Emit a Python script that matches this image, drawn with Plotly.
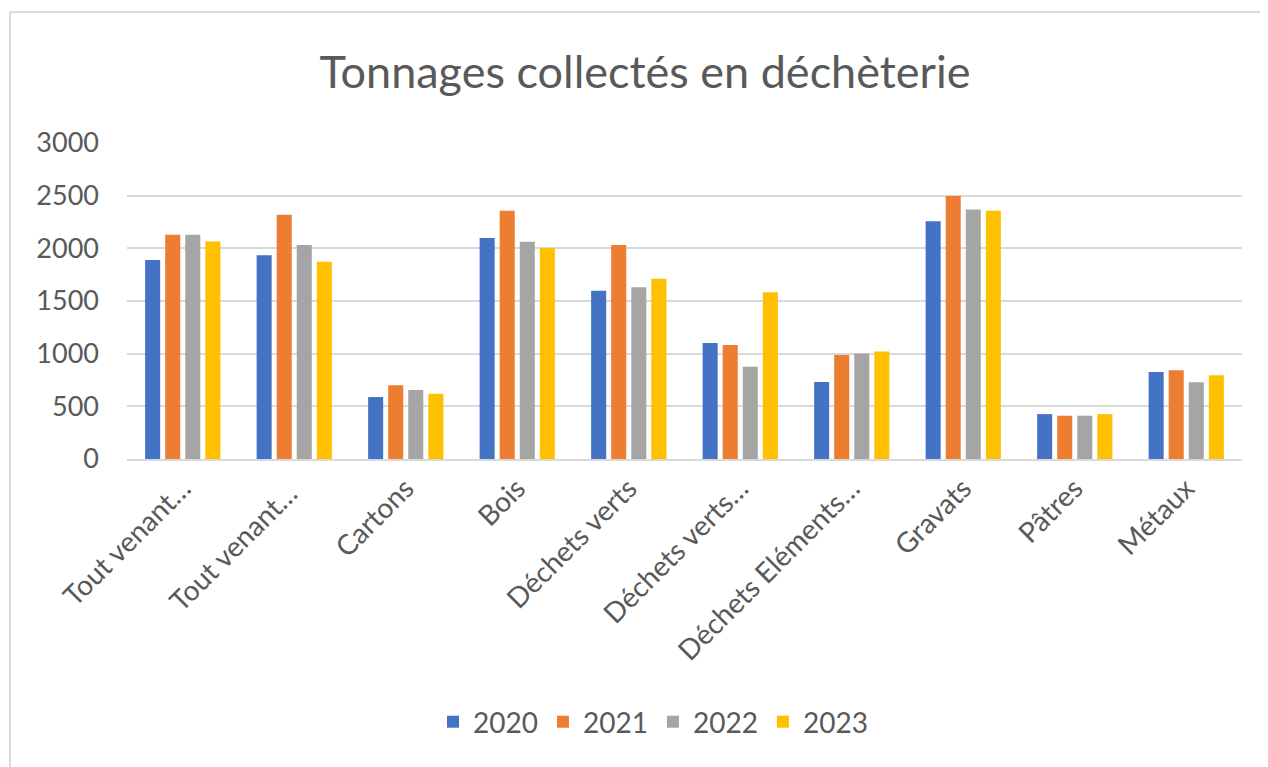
import plotly.graph_objects as go

categories = ["Tout venant…", "Tout venant… ", "Cartons", "Bois", "Déchets verts",
              "Déchets verts…", "Déchets Eléments…", "Gravats", "Pâtres", "Métaux"]
years = ["2020", "2021", "2022", "2023"]
v2020 = [1890, 1935, 588, 2097, 1598, 1102, 730, 2258, 426, 827]
v2021 = [2128, 2320, 701, 2356, 2031, 1083, 988, 2498, 411, 843]
v2022 = [2128, 2031, 654, 2062, 1630, 875, 1001, 2369, 411, 729]
v2023 = [2065, 1873, 619, 2002, 1712, 1582, 1020, 2356, 426, 796]
series = [v2020, v2021, v2022, v2023]
colors = ["#4472C4", "#ED7D31", "#A5A5A5", "#FFC000"]
yticks = [0, 500, 1000, 1500, 2000, 2500, 3000]

OFF = 8  # page body margin
W, H = 1268 - OFF, 767 - OFF
# plot area in screenshot pixels
PX0, PX1, PY0, PY1 = 127, 1242, 143, 459
L, R = PX0 - OFF, W - (PX1 - OFF)
T, B = PY0 - OFF, H - (PY1 - OFF)
pw, ph = PX1 - PX0, PY1 - PY0

def px_x(sx):
    return (sx - PX0) / pw

def px_y(sy):
    return (PY1 - sy) / ph

fig = go.Figure()
for name, vals, col in zip(years, series, colors):
    fig.add_trace(go.Bar(x=categories, y=vals, name=name, marker_color=col,
                         marker_line_width=0))

font_family = "Lato, 'Open Sans', sans-serif"
txt = "#595959"

fig.update_layout(
    width=W, height=H,
    margin=dict(l=L, r=R, t=T, b=B, autoexpand=False),
    paper_bgcolor="white", plot_bgcolor="white",
    barmode="group", bargap=0.28, bargroupgap=0.25,
    title=dict(text="Tonnages collectés en déchèterie", x=(645 - OFF) / W, xanchor="center",
               y=1 - (72 - OFF) / H, yanchor="middle",
               font=dict(family=font_family, size=45, color=txt)),
    font=dict(family=font_family, color=txt),
    xaxis=dict(tickangle=-45, tickfont=dict(size=28, color=txt), showgrid=False,
               showline=True, linecolor="#d9d9d9", linewidth=2, ticks=""),
    yaxis=dict(range=[0, 3000], tickvals=yticks, tickfont=dict(size=27, color=txt),
               showgrid=True, gridcolor="#d9d9d9", gridwidth=2, zeroline=False,
               showline=False, ticks="", ticklabelstandoff=27),
    legend=dict(orientation="h", x=px_x(653), xanchor="center", y=px_y(722), yanchor="middle",
                font=dict(size=28, color=txt), itemwidth=30, traceorder="normal"),
    shapes=[
        dict(type="line", xref="paper", yref="paper", x0=px_x(10), x1=px_x(1268), y0=px_y(12), y1=px_y(12),
             line=dict(color="#dcdccf", width=2)),
        dict(type="line", xref="paper", yref="paper", x0=px_x(10), x1=px_x(10), y0=px_y(12), y1=px_y(767),
             line=dict(color="#d9d9d9", width=2)),
    ],
)

fig.write_html("out.html")
